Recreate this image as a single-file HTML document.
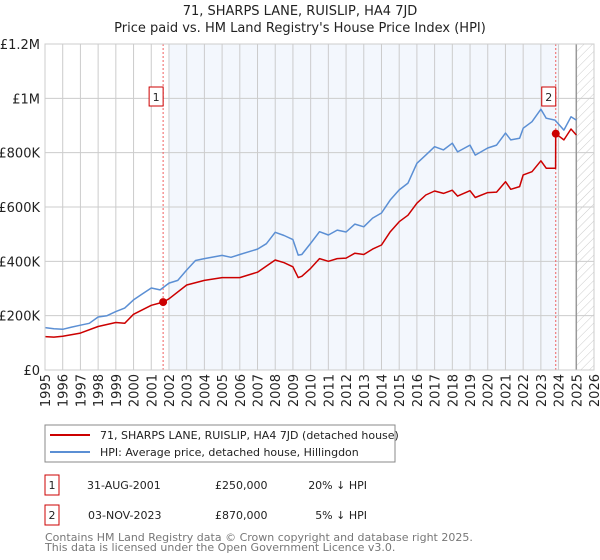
<!DOCTYPE html>
<html><head><meta charset="utf-8"><style>
body{margin:0;background:#fff;font-family:"Liberation Sans","DejaVu Sans",sans-serif;}
svg{display:block}
</style></head><body>
<svg id="chart" width="600" height="560" xmlns="http://www.w3.org/2000/svg" font-family="DejaVu Sans, Liberation Sans, sans-serif">
<text x="300" y="15" text-anchor="middle" font-size="13" fill="#222">71, SHARPS LANE, RUISLIP, HA4 7JD</text>
<text x="300" y="32" text-anchor="middle" font-size="13" fill="#222">Price paid vs. HM Land Registry's House Price Index (HPI)</text>
<defs><pattern id="hatch" width="6" height="6" patternUnits="userSpaceOnUse" patternTransform="rotate(45)"><line x1="0" y1="0" x2="0" y2="6" stroke="#ccc" stroke-width="1"/></pattern></defs>
<g id="plot"></g>
<rect x="45" y="425" width="350" height="37" fill="#fff" stroke="#888"/>
<line x1="50" y1="435" x2="90" y2="435" stroke="#cc0000" stroke-width="2"/>
<text x="100" y="439" font-size="11" fill="#222">71, SHARPS LANE, RUISLIP, HA4 7JD (detached house)</text>
<line x1="50" y1="452" x2="90" y2="452" stroke="#5b8fd4" stroke-width="2"/>
<text x="100" y="456" font-size="11" fill="#222">HPI: Average price, detached house, Hillingdon</text>
<g font-size="11" fill="#222">
<rect x="45" y="475" width="14" height="20" fill="#fff" stroke="#cc0000"/>
<text x="52" y="489" text-anchor="middle">1</text>
<text x="87" y="489">31-AUG-2001</text>
<text x="215" y="489">£250,000</text>
<text x="367" y="489" text-anchor="end">20% ↓ HPI</text>
<rect x="45" y="505" width="14" height="20" fill="#fff" stroke="#cc0000"/>
<text x="52" y="519" text-anchor="middle">2</text>
<text x="88" y="519">03-NOV-2023</text>
<text x="215" y="519">£870,000</text>
<text x="367" y="519" text-anchor="end">5% ↓ HPI</text>
</g>
<text x="45" y="541" font-size="11" fill="#777">Contains HM Land Registry data © Crown copyright and database right 2025.</text>
<text x="45" y="551" font-size="11" fill="#777">This data is licensed under the Open Government Licence v3.0.</text>
</svg>
<script>
const hpiYears=[1995,1995.5,1996,1996.5,1997,1997.5,1998,1998.5,1999,1999.5,2000,2000.5,2001,2001.5,2002,2002.5,2003,2003.5,2004,2005,2005.5,2006,2007,2007.5,2008,2008.5,2009,2009.3,2009.5,2010,2010.5,2011,2011.5,2012,2012.5,2013,2013.5,2014,2014.5,2015,2015.5,2016,2016.5,2017,2017.5,2018,2018.3,2019,2019.3,2020,2020.5,2021,2021.3,2021.8,2022,2022.5,2023,2023.3,2023.8,2024.3,2024.7,2025];
const hpiValues=[156,152,150,158,165,172,195,200,215,228,258,280,302,295,320,330,368,403,410,422,415,425,445,465,507,495,480,423,425,466,509,497,515,508,537,527,559,578,626,663,688,761,791,822,810,835,803,828,791,817,828,872,847,853,890,914,960,927,920,883,932,920];
const priceYears=[1995,1995.5,1996,1997,1998,1999,1999.5,2000,2001,2001.67,2002,2003,2004,2005,2006,2007,2008,2008.5,2009,2009.3,2009.5,2010,2010.5,2011,2011.5,2012,2012.5,2013,2013.5,2014,2014.5,2015,2015.5,2016,2016.5,2017,2017.5,2018,2018.3,2019,2019.3,2020,2020.5,2021,2021.3,2021.8,2022,2022.5,2023,2023.3,2023.83,2023.84,2024.3,2024.7,2025];
const priceValues=[123,121,124,136,160,175,172,205,238,250,262,313,330,340,340,360,405,395,380,340,345,374,410,400,410,412,430,425,445,460,509,546,570,614,644,659,650,662,640,660,635,653,655,693,665,675,718,730,770,743,743,870,847,887,865];
const saleYears=[2001.67,2023.84];
const saleValues=[250,870];
const saleLabels=["1","2"];
const yTicks=[0,200,400,600,800,1000,1200];
const yTickLabels=["£0","£200K","£400K","£600K","£800K","£1M","£1.2M"];
const xTicks=[];for(let y=1995;y<=2026;y++)xTicks.push(y);

const X0=45,X1=594,Y0=370,Y1=44;
const xs=y=>X0+(y-1995)/(2026-1995)*(X1-X0);
const ys=v=>Y0-v/1200*(Y0-Y1);
const NS="http://www.w3.org/2000/svg";
const g=document.getElementById('plot');
function mk(t,a){const e=document.createElementNS(NS,t);for(const k in a)e.setAttribute(k,a[k]);g.appendChild(e);return e;}

let e=mk('rect',{x:xs(2002),y:Y1,width:xs(2024)-xs(2002),height:Y0-Y1,fill:'#eef3fc',opacity:0.7});


e=mk('rect',{x:xs(2025),y:Y1,width:X1-xs(2025),height:Y0-Y1,fill:'url(#hatch)'});


xTicks.forEach(t=>{
  let l=mk('line',{x1:xs(t),x2:xs(t),y1:Y1,y2:Y0,stroke:'#ccc','stroke-width':1});
  
  
  let tx=mk('text',{x:0,y:0,'font-size':13,fill:'#222','text-anchor':'end',transform:`translate(${xs(t)+5},${Y0+4}) rotate(-90)`});
  tx.textContent=t;
  
  
});
yTicks.forEach((t,i)=>{
  let l=mk('line',{x1:X0,x2:X1,y1:ys(t),y2:ys(t),stroke:'#ccc','stroke-width':1});
  
  
  let tx=mk('text',{x:40,y:ys(t)+5,'font-size':13,fill:'#222','text-anchor':'end'});
  tx.textContent=yTickLabels[i];
  
  
});
e=mk('line',{x1:xs(2025),x2:xs(2025),y1:Y1,y2:Y0,stroke:'#999','stroke-width':1.5});


saleYears.forEach((y,i)=>{
  let l=mk('line',{x1:xs(y),x2:xs(y),y1:Y1,y2:Y0,stroke:'#f06060','stroke-width':1,'stroke-dasharray':'2,2'});
  
  
});
function path(xa,va,col,name){
  const d=xa.map((x,i)=>(i?'L':'M')+xs(x).toFixed(1)+','+ys(va[i]).toFixed(1)).join('');
  let p=mk('path',{d:d,fill:'none',stroke:col,'stroke-width':1.5,'stroke-linejoin':'round'});
  
  
}
path(hpiYears,hpiValues,'#5b8fd4','hpi-line');
path(priceYears,priceValues,'#cc0000','price-line');
saleYears.forEach((y,i)=>{
  let c=mk('circle',{cx:xs(y),cy:ys(saleValues[i]),r:4,fill:'#cc0000'});
  
  
  let bx=xs(y)-7-(i?7:7);
  let r=mk('rect',{x:xs(y)-7-(i?7:7)+0,y:87,width:14,height:19,fill:'#fff',stroke:'#cc0000'});
  
  
  let t=mk('text',{x:bx+7,y:101,'font-size':11,'text-anchor':'middle',fill:'#222'});
  t.textContent=saleLabels[i];
  
  
});
e=mk('rect',{x:X0,y:Y1,width:X1-X0,height:Y0-Y1,fill:'none',stroke:'#ccc'});


</script>
</body></html>
